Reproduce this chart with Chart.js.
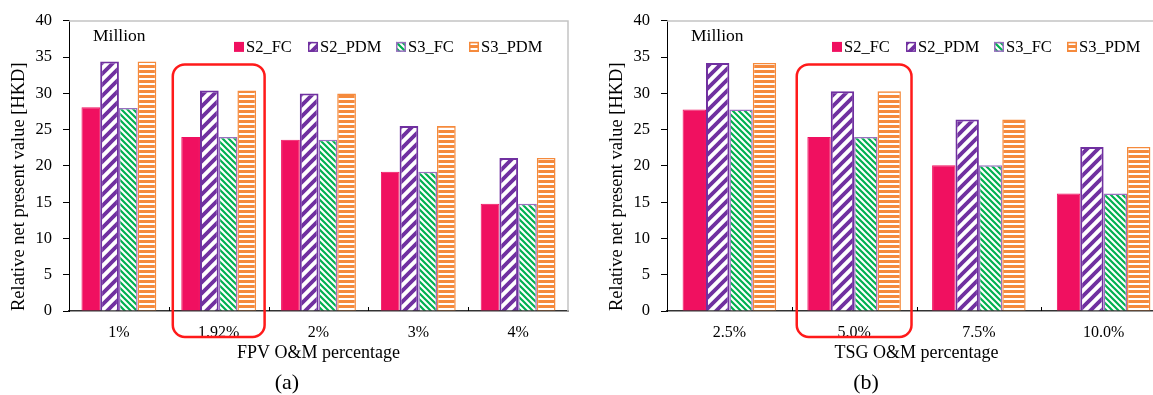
<!DOCTYPE html>
<html>
<head>
<meta charset="utf-8">
<script src="https://cdn.jsdelivr.net/npm/chart.js"></script>
<style>
  body { margin: 0; width: 1153px; height: 395px; overflow: hidden; background: #fff; position: relative; font-family: "Liberation Serif", serif; }
  #left { position: absolute; left: 0; top: 0; }
  #right { position: absolute; left: 598px; top: 0; }
  .cap { position: absolute; top: 369px; width: 50px; text-align: center; font-size: 22px; line-height: 25px; color: #000; }
</style>
</head>
<body>
<canvas id="left" width="580" height="395"></canvas>
<canvas id="right" width="580" height="395"></canvas>
<div class="cap" style="left:262px">(a)</div>
<div class="cap" style="left:841px">(b)</div>
<script>
// data (million HKD)
const seriesNames = ["S2_FC", "S2_PDM", "S3_FC", "S3_PDM"];

const fpvLabels = ["1%", "1.92%", "2%", "3%", "4%"];
const fpvS2FC = [28.1, 24.0, 23.6, 19.2, 14.8];
const fpvS2PDM = [34.4, 30.4, 30.0, 25.5, 21.1];
const fpvS3FC = [28.0, 24.0, 23.6, 19.2, 14.8];
const fpvS3PDM = [34.4, 30.4, 30.0, 25.5, 21.1];

const tsgLabels = ["2.5%", "5.0%", "7.5%", "10.0%"];
const tsgS2FC = [27.8, 24.0, 20.1, 16.2];
const tsgS2PDM = [34.2, 30.3, 26.4, 22.6];
const tsgS3FC = [27.8, 24.0, 20.1, 16.2];
const tsgS3PDM = [34.2, 30.3, 26.4, 22.6];

const yTicks = [0, 5, 10, 15, 20, 25, 30, 35, 40];
const unitText = "Million";
const yTitle = "Relative net present value [HKD]";

Chart.defaults.font.family = '"Liberation Serif", "Times New Roman", serif';
Chart.defaults.color = "#000";

function makePattern(kind, color, size, lw) {
  const c = document.createElement("canvas");
  c.width = size;
  c.height = size;
  const g = c.getContext("2d");
  g.fillStyle = "#fff";
  g.fillRect(0, 0, size, size);
  g.strokeStyle = color;
  g.fillStyle = color;
  g.lineWidth = lw;
  g.beginPath();
  if (kind === "up") {
    g.moveTo(0, size); g.lineTo(size, 0);
    g.moveTo(-size / 2, size / 2); g.lineTo(size / 2, -size / 2);
    g.moveTo(size / 2, size * 1.5); g.lineTo(size * 1.5, size / 2);
    g.stroke();
  } else if (kind === "down") {
    g.moveTo(0, 0); g.lineTo(size, size);
    g.moveTo(-size / 2, size / 2); g.lineTo(size / 2, size * 1.5);
    g.moveTo(size / 2, -size / 2); g.lineTo(size * 1.5, size / 2);
    g.stroke();
  } else {
    g.fillRect(0, 0, size, lw);
  }
  return g.createPattern(c, "repeat");
}

const pink = "#F01060";
const purple = "#7030A0";
const green = "#00B050";
const orange = "#F58A3C";

const fills = [
  pink,
  makePattern("up", purple, 11, 3.8),
  makePattern("down", green, 6, 2.2),
  makePattern("flat", orange, 5, 3)
];
const borders = [pink, purple, "#9A70C0", orange];
const borderWidths = [1, 2, 1.5, 1.5];

// legend item offsets from the plot's left edge
const legendOffsets = [165, 239, 327, 400];

const decor = {
  id: "decor",
  afterDraw(chart, args, opts) {
    const { ctx, chartArea: a, scales: { x, y } } = chart;
    ctx.save();

    // light frame on top and right
    ctx.strokeStyle = "#c4c4c4";
    ctx.lineWidth = 1.5;
    ctx.beginPath();
    ctx.moveTo(a.left, a.top);
    ctx.lineTo(a.right, a.top);
    ctx.lineTo(a.right, a.bottom);
    ctx.stroke();

    // small inward ticks between categories
    ctx.strokeStyle = "#000";
    ctx.lineWidth = 1;
    const n = chart.data.labels.length;
    for (let i = 1; i < n; i++) {
      const px = Math.round((x.getPixelForValue(i - 1) + x.getPixelForValue(i)) / 2) + 0.5;
      ctx.beginPath();
      ctx.moveTo(px, a.bottom);
      ctx.lineTo(px, a.bottom - 4);
      ctx.stroke();
    }

    // unit text
    ctx.fillStyle = "#000";
    ctx.font = '17.5px "Liberation Serif"';
    ctx.textBaseline = "alphabetic";
    ctx.fillText(unitText, a.left + 24, a.top + 20);

    // legend inside plot
    ctx.font = '16.5px "Liberation Serif"';
    chart.data.datasets.forEach((ds, i) => {
      const bx = a.left + legendOffsets[i];
      const by = a.top + 21;
      ctx.fillStyle = ds.backgroundColor;
      ctx.fillRect(bx, by, 10, 10);
      if (i > 0) {
        ctx.strokeStyle = ds.borderColor;
        ctx.lineWidth = 1.5;
        ctx.strokeRect(bx + 0.75, by + 0.75, 8.5, 8.5);
      }
      ctx.fillStyle = "#000";
      ctx.fillText(ds.label, bx + 12, a.top + 31);
    });

    // red rounded box around the base case
    const cx = x.getPixelForValue(opts.highlight);
    const half = (x.getPixelForValue(1) - x.getPixelForValue(0)) * 0.46;
    const top = y.getPixelForValue(34);
    ctx.strokeStyle = "#ff1a1a";
    ctx.lineWidth = 2.5;
    ctx.beginPath();
    ctx.roundRect(cx - half, top, half * 2, a.bottom + 26 - top, 12);
    ctx.stroke();

    ctx.restore();
  }
};

function makeChart(id, labels, values, xTitle, highlight) {
  return new Chart(document.getElementById(id), {
    type: "bar",
    data: {
      labels: labels,
      datasets: values.map((v, i) => ({
        label: seriesNames[i],
        data: v,
        backgroundColor: fills[i],
        borderColor: borders[i],
        borderWidth: borderWidths[i],
        categoryPercentage: 0.75,
        barPercentage: 1.0
      }))
    },
    options: {
      responsive: false,
      animation: false,
      devicePixelRatio: 1,
      layout: { padding: { top: 18, right: 12, bottom: 30, left: 0 } },
      plugins: {
        legend: { display: false },
        tooltip: { enabled: false },
        decor: { highlight: highlight }
      },
      scales: {
        x: {
          grid: { display: false },
          border: { color: "#333", width: 1.5 },
          ticks: { font: { size: 16 }, padding: 4, maxRotation: 0 },
          title: { display: true, text: xTitle, font: { size: 18 }, padding: { top: 0, bottom: 1 } },
          afterFit(s) { s.height = 54; }
        },
        y: {
          min: 0,
          max: 40,
          afterBuildTicks(s) { s.ticks = yTicks.map(v => ({ value: v })); },
          grid: { drawOnChartArea: false, color: "#000", tickLength: 6 },
          border: { color: "#000", width: 1 },
          ticks: { font: { size: 16.5 }, padding: 11 },
          title: { display: true, text: yTitle, align: "start", font: { size: 18.5 }, padding: { top: 8, bottom: 0 } },
          afterFit(s) { s.width = 69; }
        }
      }
    },
    plugins: [decor]
  });
}

makeChart("left", fpvLabels, [fpvS2FC, fpvS2PDM, fpvS3FC, fpvS3PDM], "FPV O&M percentage", 1);
makeChart("right", tsgLabels, [tsgS2FC, tsgS2PDM, tsgS3FC, tsgS3PDM], "TSG O&M percentage", 1);
</script>
</body>
</html>
